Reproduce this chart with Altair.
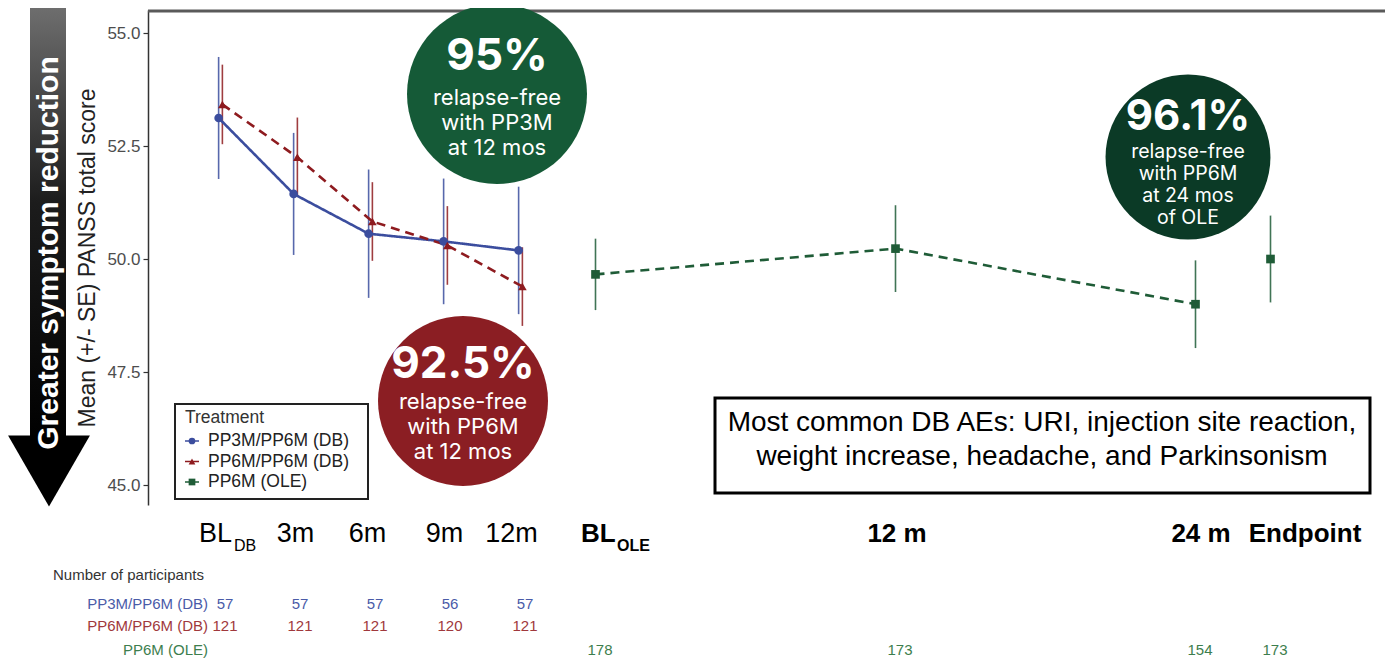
import altair as alt
import pandas as pd

# ---------------- data ----------------
series_names = ["PP3M/PP6M (DB)", "PP6M/PP6M (DB)", "PP6M (OLE)"]
series_colors = ["#3B4D9E", "#8E1B1F", "#1F5C37"]
table_colors = ["#4A5BA8", "#A0383C", "#3D7E4E"]

# timepoint positions (visit index on the time axis)
tick_x = [0, 1, 2, 3, 4, 5, 9, 13, 14]
tick_main = ["BL", "3m", "6m", "9m", "12m", "BL", "12 m", "24 m", "Endpoint"]
tick_sub = ["DB", "", "", "", "", "OLE", "", "", ""]
tick_bold = [False, False, False, False, False, True, True, True, True]

pp3m_x = [0, 1, 2, 3, 4]
pp3m_mean = [53.12, 51.44, 50.56, 50.39, 50.19]
pp3m_se = [1.35, 1.35, 1.42, 1.39, 1.41]

pp6m_x = [0, 1, 2, 3, 4]
pp6m_mean = [53.42, 52.25, 50.83, 50.30, 49.39]
pp6m_se = [0.88, 0.88, 0.87, 0.87, 0.87]

ole_x = [5, 9, 13, 14]
ole_mean = [49.66, 50.23, 49.00, 50.00]
ole_se = [0.79, 0.96, 0.97, 0.96]
ole_connected = [True, True, True, False]

n_pp3m = [57, 57, 57, 56, 57]
n_pp6m = [121, 121, 121, 120, 121]
n_ole = [178, 173, 154, 173]

# ---------------- build tables ----------------
dodge = {series_names[0]: -0.025, series_names[1]: 0.025, series_names[2]: 0.0}
rows = []
for name, xs, ms, ses, con in [
    (series_names[0], pp3m_x, pp3m_mean, pp3m_se, [True] * 5),
    (series_names[1], pp6m_x, pp6m_mean, pp6m_se, [True] * 5),
    (series_names[2], ole_x, ole_mean, ole_se, ole_connected),
]:
    for x, m, s, c in zip(xs, ms, ses, con):
        rows.append({"series": name, "xp": x + dodge[name], "mean": m,
                     "lo": m - s, "hi": m + s, "connect": c})
df = pd.DataFrame(rows)

W, H = 1232, 495
FONT = "Liberation Sans, Arial, sans-serif"
CFONT = "Inter, Liberation Sans, sans-serif"
xscale = alt.Scale(domain=[-0.9667, 15.46], nice=False, zero=False)
yscale = alt.Scale(domain=[44.558, 55.509], nice=False, zero=False)
cscale = alt.Scale(domain=series_names, range=series_colors)
one = pd.DataFrame({"k": [0]})

yaxis = alt.Axis(values=[45, 47.5, 50, 52.5, 55], format=".1f",
                 title="Mean (+/- SE) PANSS total score", grid=False,
                 domainColor="#333333", domainWidth=1.5, tickColor="#333333",
                 tickSize=5, tickWidth=1.2, labelFontSize=17, labelColor="#4d4d4d",
                 labelFont=FONT, labelPadding=3, titleFontSize=23,
                 titleFontWeight="normal", titleColor="#222222", titleFont=FONT,
                 titlePadding=7)

base = alt.Chart(df)
errbars = base.mark_rule(strokeWidth=1.6, opacity=0.85).encode(
    x=alt.X("xp:Q", scale=xscale, axis=None),
    y=alt.Y("lo:Q", scale=yscale, axis=yaxis),
    y2="hi:Q",
    color=alt.Color("series:N", scale=cscale, legend=None),
)
lines = base.transform_filter("datum.connect").mark_line(strokeWidth=2.6).encode(
    x=alt.X("xp:Q", scale=xscale, axis=None),
    y=alt.Y("mean:Q", scale=yscale),
    color=alt.Color("series:N", scale=cscale, legend=None),
    strokeDash=alt.StrokeDash("series:N", scale=alt.Scale(domain=series_names,
                              range=[[1, 0], [9, 6], [9, 6]]), legend=None),
)
points = base.mark_point(filled=True, size=75, opacity=1).encode(
    x=alt.X("xp:Q", scale=xscale, axis=None),
    y=alt.Y("mean:Q", scale=yscale),
    color=alt.Color("series:N", scale=cscale, legend=None),
    shape=alt.Shape("series:N", scale=alt.Scale(domain=series_names,
                    range=["circle", "triangle-up", "square"]), legend=None),
)

layers = [errbars, lines, points]

# top frame line
layers.append(alt.Chart(one).mark_rule(color="#5a5a5a", strokeWidth=3).encode(
    x=alt.value(0), x2=alt.value(W + 5), y=alt.value(1)))

# big arrow on the left
grad = alt.LinearGradient(gradient="linear",
                          stops=[alt.GradientStop(offset=0, color="#6e6e6e"),
                                 alt.GradientStop(offset=0.45, color="#1c1c1c"),
                                 alt.GradientStop(offset=1, color="#000000")],
                          x1=0, x2=0, y1=0, y2=1)
layers.append(alt.Chart(one).mark_rect(color=grad).encode(
    x=alt.value(-118), x2=alt.value(-82), y=alt.value(-3), y2=alt.value(432)))
layers.append(alt.Chart(one).mark_point(shape="triangle-down", size=6700, filled=True,
                                        color="#000000", opacity=1).encode(
    x=alt.value(-99), y=alt.value(461)))
layers.append(alt.Chart(one).mark_text(angle=270, font=FONT, fontSize=30, fontWeight="bold",
                                       color="white", align="center", baseline="middle",
                                       text="Greater symptom reduction").encode(
    x=alt.value(-99), y=alt.value(243)))

# relapse-free circles
circles = [
    ("#155A37", 349, 84, 32400, [("95%", 44, 47), ("relapse-free", 22, 88),
                                ("with PP3M", 22, 113), ("at 12 mos", 22, 138)]),
    ("#8B1E23", 315, 391, 28900, [("92.5%", 44, 355), ("relapse-free", 22, 392),
                                 ("with PP6M", 22, 417), ("at 12 mos", 22, 442)]),
    ("#0B3A26", 1040, 147, 27200, [("96.1%", 42, 107), ("relapse-free", 19.5, 142),
                                  ("with PP6M", 19.5, 164), ("at 24 mos", 19.5, 186),
                                  ("of OLE", 19.5, 208)]),
]
for col, cx, cy, sz, texts in circles:
    layers.append(alt.Chart(one).mark_circle(size=sz, color=col, opacity=1).encode(
        x=alt.value(cx), y=alt.value(cy)))
    for i, (t, fs, ty) in enumerate(texts):
        layers.append(alt.Chart(one).mark_text(font=CFONT, fontSize=fs,
                                               fontWeight="bold" if i == 0 else "normal",
                                               color="white", align="center",
                                               baseline="middle", text=t).encode(
            x=alt.value(cx), y=alt.value(ty)))

# legend box
layers.append(alt.Chart(one).mark_rect(fill="white", stroke="#222222", strokeWidth=2).encode(
    x=alt.value(27), x2=alt.value(220), y=alt.value(394), y2=alt.value(489)))
layers.append(alt.Chart(one).mark_text(font=FONT, fontSize=17.5, color="#333333", align="left",
                                       baseline="middle", text="Treatment").encode(
    x=alt.value(37), y=alt.value(408)))
shapes = ["circle", "triangle-up", "square"]
for i, name in enumerate(series_names):
    ly = 431 + 20.5 * i
    layers.append(alt.Chart(one).mark_rule(color=series_colors[i], strokeWidth=1.5).encode(
        x=alt.value(37), x2=alt.value(51), y=alt.value(ly)))
    layers.append(alt.Chart(one).mark_point(shape=shapes[i], size=45, filled=True,
                                            color=series_colors[i], opacity=1).encode(
        x=alt.value(44), y=alt.value(ly)))
    layers.append(alt.Chart(one).mark_text(font=FONT, fontSize=17.5, color="#222222",
                                           align="left", baseline="middle", text=name).encode(
        x=alt.value(60), y=alt.value(ly)))

# AE annotation box
layers.append(alt.Chart(one).mark_rect(fill="white", stroke="#000000", strokeWidth=3).encode(
    x=alt.value(567), x2=alt.value(1222), y=alt.value(388), y2=alt.value(483)))
for t, ty in [("Most common DB AEs: URI, injection site reaction,", 421),
              ("weight increase, headache, and Parkinsonism", 455)]:
    layers.append(alt.Chart(one).mark_text(font=FONT, fontSize=28, color="#000000",
                                           align="center", baseline="alphabetic", text=t).encode(
        x=alt.value(894), y=alt.value(ty)))

# x tick labels (drawn as text below the plot)
label_dx = [-21.5, 0, -3, -1, -9, -14.5, 1.5, 5.5, 34.5]
sub_dx = [13.5, 0, 0, 0, 0, 21.5, 0, 0, 0]
for i in range(len(tick_x)):
    d = pd.DataFrame({"x": [tick_x[i]], "label": [tick_main[i]], "sub": [tick_sub[i]]})
    has_sub = tick_sub[i] != ""
    layers.append(alt.Chart(d).mark_text(
        font=FONT, fontSize=26 if tick_bold[i] else 27,
        fontWeight="bold" if tick_bold[i] else "normal", color="#000000",
        align="left" if has_sub else "center", baseline="alphabetic", dx=label_dx[i]).encode(
        x=alt.X("x:Q", scale=xscale, axis=None), y=alt.value(532), text="label:N"))
    if has_sub:
        layers.append(alt.Chart(d).mark_text(
            font=FONT, fontSize=16, fontWeight="bold" if tick_bold[i] else "normal",
            color="#000000", align="left", baseline="alphabetic", dx=sub_dx[i]).encode(
            x=alt.X("x:Q", scale=xscale, axis=None), y=alt.value(541), text="sub:N"))

# number of participants table
layers.append(alt.Chart(one).mark_text(font=FONT, fontSize=15, color="#333333", align="left",
                                       baseline="middle", text="Number of participants").encode(
    x=alt.value(-95), y=alt.value(565)))
row_y = [594, 616, 640]
for i, (name, xs, ns) in enumerate([(series_names[0], pp3m_x, n_pp3m),
                                    (series_names[1], pp6m_x, n_pp6m),
                                    (series_names[2], ole_x, n_ole)]):
    layers.append(alt.Chart(one).mark_text(font=FONT, fontSize=15, color=table_colors[i],
                                           align="right", baseline="middle", text=name).encode(
        x=alt.value(60), y=alt.value(row_y[i])))
    d = pd.DataFrame({"x": xs, "n": ns})
    layers.append(alt.Chart(d).mark_text(font=FONT, fontSize=15, color=table_colors[i],
                                         align="center", baseline="middle", dx=4.5).encode(
        x=alt.X("x:Q", scale=xscale, axis=None), y=alt.value(row_y[i]), text="n:Q"))

chart = alt.layer(*layers).properties(
    width=W, height=H,
    autosize=alt.AutoSizeParams(type="none"),
    padding={"left": 140, "top": 2, "right": 5, "bottom": 157},
).configure_view(stroke=None)

chart.save("out.html", embed_options={"renderer": "svg", "actions": False})
